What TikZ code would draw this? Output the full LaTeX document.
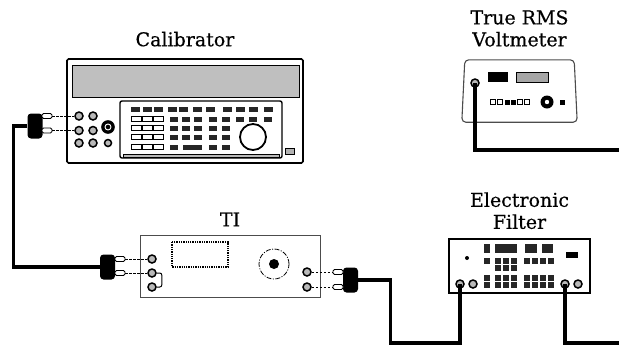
\documentclass[tikz,border=0pt]{standalone}
\usepackage{fontspec}
\setmainfont{DejaVu Serif}
\newfontfamily\labelfont{DejaVu Serif}[FakeBold=0.5]
\usetikzlibrary{positioning,calc}
\tikzset{
    cable/.style={line width=3.2pt},
    unit/.style={draw, line width=1.6pt, rounded corners=1.5pt, inner sep=0pt},
    title/.style={font=\labelfont\fontsize{19}{22}\selectfont, align=center, inner sep=0pt},
    jack/.style={circle, draw, line width=1.5pt, fill=gray!55, inner sep=0pt, minimum size=8pt},
    pin/.style={draw, line width=0.9pt, fill=white, rounded corners=1.5pt, inner sep=0pt, minimum width=10pt, minimum height=5pt},
    plug/.style={fill=black, rounded corners=3.5pt, inner sep=0pt, minimum width=15pt, minimum height=25pt},
    lead/.style={line width=0.9pt, dash pattern=on 2.5pt off 1.5pt},
    key/.style={fill=black!85},
    wkey/.style={draw, line width=0.9pt, fill=white}
}

\begin{document}
\begin{tikzpicture}[x=1pt, y=-1pt]
\useasboundingbox (0,0) rectangle (619,346);

\node[unit, minimum width=236pt, minimum height=104pt] (cal) at (185,111) {};
\node[title, above=11.5pt of cal] (calLabel) {Calibrator};
\draw[line width=0.8pt, fill=gray!50] (72,65) rectangle (299,97);
\draw[line width=1.4pt, rounded corners=2pt] (120,101) rectangle (282,158);
\draw[line width=0.5pt, fill=gray!55] (123,154) rectangle (279,157.5);
\foreach \x in {135,147,158,172,183,197,210,227,240,253,268}
    \fill[key] (\x-4.5,106.5) rectangle (\x+4.5,111.5);
\foreach \y in {119,128,137,147}
    \foreach \x in {136,147,158}
        \draw[wkey] (\x-5,\y-2.5) rectangle (\x+5,\y+2.5);
\foreach \y in {119,128,137}
    \foreach \x in {174,186,198,213,226}
        \fill[key] (\x-4,\y-2.5) rectangle (\x+4,\y+2.5);
\foreach \x in {240,253,268}
    \fill[key] (\x-4,116.5) rectangle (\x+4,121.5);
\foreach \x in {174,213,226}
    \fill[key] (\x-4,144.5) rectangle (\x+4,149.5);
\fill[key] (183,144.5) rectangle (202,149.5);
\draw[line width=1.8pt] (253,137) circle (13pt);
\draw[line width=0.8pt, fill=gray!60] (285,148) rectangle (294,154);
\foreach \r/\y in {1/116,2/130.5,3/143} {
    \node[jack] (cjA\r) at (79,\y) {};
    \node[jack] (cjB\r) at (93,\y) {};
}
\node[jack, minimum size=7pt] (cjC3) at (108,143) {};
\node[circle, fill=black, draw, line width=1.6pt, minimum size=12pt, inner sep=0pt] (cjBig) at (108,127) {};
\draw[white, line width=0.9pt] (cjBig) circle (3pt);
\node[plug] (calPlug) at (35,126) {};
\node[pin] (calPinA) at (47,116) {};
\node[pin] (calPinB) at (47,130.5) {};
\draw[lead] (calPinA) -- (cjA1);
\draw[lead] (calPinB) -- (cjA2);

\node[unit, draw=gray!60!black, line width=0.9pt, rounded corners=0pt, minimum width=180pt, minimum height=62pt] (ti) at (230,266) {};
\node[title, above=8pt of ti] (tiLabel) {TI};
\draw[densely dotted, line width=1.3pt] (172,242) rectangle (228,267);
\draw[line width=0.8pt, dash pattern=on 5pt off 1.5pt on 1pt off 1.5pt] (274,264) circle (15pt);
\fill (274,264) circle (5pt);
\foreach \r/\y in {1/259,2/273,3/287}
    \node[jack] (tjL\r) at (152,\y) {};
\draw[line width=1pt, rounded corners=2pt] (tjL2.east) -- ++(5,0) |- (tjL3.east);
\foreach \r/\y in {1/272,2/287}
    \node[jack] (tjR\r) at (307,\y) {};
\node[plug] (tiPlugL) at (107.5,267) {};
\node[pin] (tiPinA) at (120,259) {};
\node[pin] (tiPinB) at (120,273) {};
\draw[lead] (tiPinA) -- (tjL1);
\draw[lead] (tiPinB) -- (tjL2);
\node[plug] (tiPlugR) at (350.5,280) {};
\node[pin] (tiPinC) at (338,272) {};
\node[pin] (tiPinD) at (338,287) {};
\draw[lead] (tjR1) -- (tiPinC);
\draw[lead] (tjR2) -- (tiPinD);

\node[unit, line width=1.5pt, rounded corners=0pt, minimum width=141pt, minimum height=54pt] (filter) at (519.5,266) {};
\node[title, above=9pt of filter] (filterLabel) {Electronic\\Filter};
\fill (467,258) circle (2pt);
\fill[key] (484,244) rectangle (490,253);
\foreach \a/\b in {495/517,525/537,542/553}
    \fill[key] (\a,244) rectangle (\b,253);
\foreach \y in {261,278,285}
    \foreach \x in {487,498,506,514,527,535,543,551}
        \fill[key] (\x-2.8,\y-2.6) rectangle (\x+2.8,\y+2.6);
\foreach \x in {498,506,514}
    \fill[key] (\x-2.8,265.4) rectangle (\x+2.8,270.6);
\fill (566,252) rectangle (578,258);
\foreach \n/\x in {1/460,2/473,3/565,4/578}
    \node[jack] (fj\n) at (\x,284) {};

\node[minimum width=115pt, minimum height=62pt, inner sep=0pt] (vm) at (519.5,91) {};
\draw[draw=gray!60!black, line width=1.1pt, rounded corners=4pt] ([xshift=3pt]vm.north west) -- ([xshift=-3pt]vm.north east) -- (vm.south east) -- (vm.south west) -- cycle;
\node[title, above=13pt of vm] (vmLabel) {True RMS\\Voltmeter};
\fill (488,72) rectangle (508,82);
\draw[fill=gray!70, line width=0.8pt] (516,72) rectangle (548,82);
\foreach \x in {493,500,520,527}
    \draw[line width=0.7pt] (\x-2.5,99.5) rectangle (\x+2.5,104.5);
\foreach \x in {507,513}
    \fill (\x-2.5,99.5) rectangle (\x+2.5,104.5);
\fill (547,102) circle (6.5pt);
\fill[white] (547,102) circle (2.2pt);
\fill (560,99.5) rectangle (565,104.5);
\node[jack] (vj) at (475,83) {};

\coordinate (outA) at (619,150);
\coordinate (outB) at (619,343);
\draw[cable] (calPlug.west) -- ++(-14,0) |- (tiPlugL.west);
\draw[cable] (tiPlugR.east) -- ++(32,0) |- ($(fj1)+(0,59)$) -- (fj1.center);
\draw[cable] (fj3.center) |- (outB);
\draw[cable] (vj.center) |- (outA);
\end{tikzpicture}
\end{document}
